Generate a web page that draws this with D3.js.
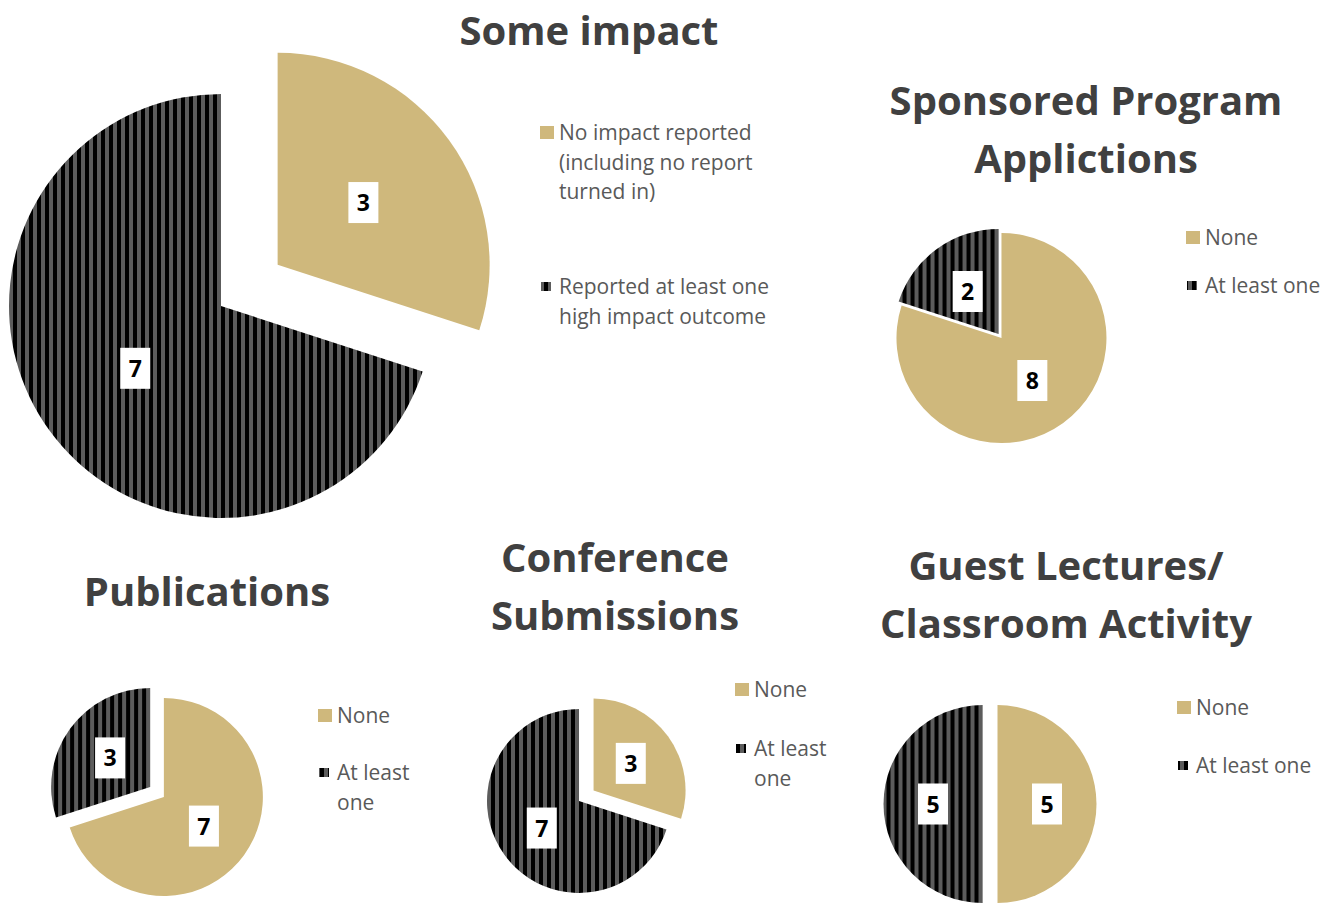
<!DOCTYPE html>
<html>
<head>
<meta charset="utf-8">
<script src="https://cdn.jsdelivr.net/npm/d3@7"></script>
<style>
  body { margin: 0; background: #fff; }
  svg { display: block; }
</style>
</head>
<body>
<div id="chart"></div>
<script>
// chart data
var titles = [["Some impact"], ["Sponsored Program", "Applictions"], ["Publications"],
  ["Conference", "Submissions"], ["Guest Lectures/", "Classroom Activity"]];
var noneValues = [3, 8, 7, 3, 5];
var atLeastValues = [7, 2, 3, 7, 5];
var noneLabels = ["No impact reported\n(including no report\nturned in)", "None", "None", "None", "None"];
var atLeastLabels = ["Reported at least one\nhigh impact outcome", "At least one", "At least\none", "At least\none", "At least one"];

// layout of each small pie on the page
var layout = [
  { cx: 221, cy: 306, r: 212, explode: [70, 0], titleX: 589, titleY: 45,
    legX: 540, legY: [133, 287] },
  { cx: 1000, cy: 336, r: 105, explode: [2.5, 2.5], titleX: 1086, titleY: 115,
    legX: 1186, legY: [238, 286] },
  { cx: 157, cy: 792, r: 99, explode: [8.5, 8.5], titleX: 207, titleY: 606,
    legX: 318, legY: [716, 773] },
  { cx: 579, cy: 801, r: 92, explode: [18, 0], titleX: 615, titleY: 572,
    legX: 735, legY: [690, 749] },
  { cx: 990, cy: 804, r: 99, explode: [7.5, 7.5], titleX: 1066, titleY: 580,
    legX: 1177, legY: [708, 766] }
];

var svgW = 1336;
var svgH = 905;
var tan = "#cfb87c";

var svg = d3.select("#chart").append("svg")
  .attr("width", svgW)
  .attr("height", svgH);

// vertical black / grey stripes
var defs = svg.append("defs");
var pat = defs.append("pattern")
  .attr("id", "stripes")
  .attr("patternUnits", "userSpaceOnUse")
  .attr("width", 8)
  .attr("height", 8);
pat.append("rect").attr("width", 8).attr("height", 8).attr("fill", "#000");
pat.append("rect").attr("x", 4).attr("width", 4).attr("height", 8).attr("fill", "#5c5c5c");

var pie = d3.pie().sort(null).value(d => d.value);

layout.forEach(function (L, i) {
  var data = [
    { value: noneValues[i], fill: tan, explode: L.explode[0] },
    { value: atLeastValues[i], fill: "url(#stripes)", explode: L.explode[1] }
  ];
  var arc = d3.arc().innerRadius(0).outerRadius(L.r);
  var g = svg.append("g").attr("transform", `translate(${L.cx}, ${L.cy})`);

  var slices = g.selectAll("g.slice")
    .data(pie(data))
    .enter()
    .append("g")
    .attr("class", "slice")
    .attr("transform", function (d) {
      var a = (d.startAngle + d.endAngle) / 2;
      var e = d.data.explode;
      return `translate(${e * Math.sin(a)}, ${-e * Math.cos(a)})`;
    });

  slices.append("path")
    .attr("d", arc)
    .attr("fill", d => d.data.fill);

  // value labels in white boxes
  slices.append("rect")
    .attr("x", d => arc.centroid(d)[0] - 15)
    .attr("y", d => arc.centroid(d)[1] - 20.5)
    .attr("width", 30)
    .attr("height", 41)
    .attr("fill", "#fff");

  slices.append("text")
    .attr("x", d => arc.centroid(d)[0])
    .attr("y", d => arc.centroid(d)[1] + 8.5)
    .attr("text-anchor", "middle")
    .attr("font-family", "'Open Sans', sans-serif")
    .attr("font-weight", "bold")
    .attr("font-size", "23px")
    .attr("fill", "#000")
    .text(d => d.data.value);

  // title
  var t = svg.append("text")
    .attr("text-anchor", "middle")
    .attr("font-family", "'Open Sans', sans-serif")
    .attr("font-weight", "bold")
    .attr("font-size", "40px")
    .attr("fill", "#404040");
  titles[i].forEach(function (line, k) {
    t.append("tspan")
      .attr("x", L.titleX)
      .attr("y", L.titleY + k * 58)
      .text(line);
  });

  // legend
  var labels = [noneLabels[i], atLeastLabels[i]];
  labels.forEach(function (lab, k) {
    var y0 = L.legY[k];
    if (k === 0) {
      svg.append("rect")
        .attr("x", L.legX).attr("y", y0 - 7)
        .attr("width", 14).attr("height", 13)
        .attr("fill", tan);
    } else {
      svg.append("rect")
        .attr("x", L.legX + 1).attr("y", y0 - 5)
        .attr("width", 10).attr("height", 9)
        .attr("fill", "url(#stripes)");
    }
    var lt = svg.append("text")
      .attr("font-family", "'Open Sans', sans-serif")
      .attr("font-size", "21px")
      .attr("fill", "#595959");
    lab.split("\n").forEach(function (line, j) {
      lt.append("tspan")
        .attr("x", L.legX + 19)
        .attr("y", y0 + 7 + j * 29.5)
        .text(line);
    });
  });
});
</script>
</body>
</html>
